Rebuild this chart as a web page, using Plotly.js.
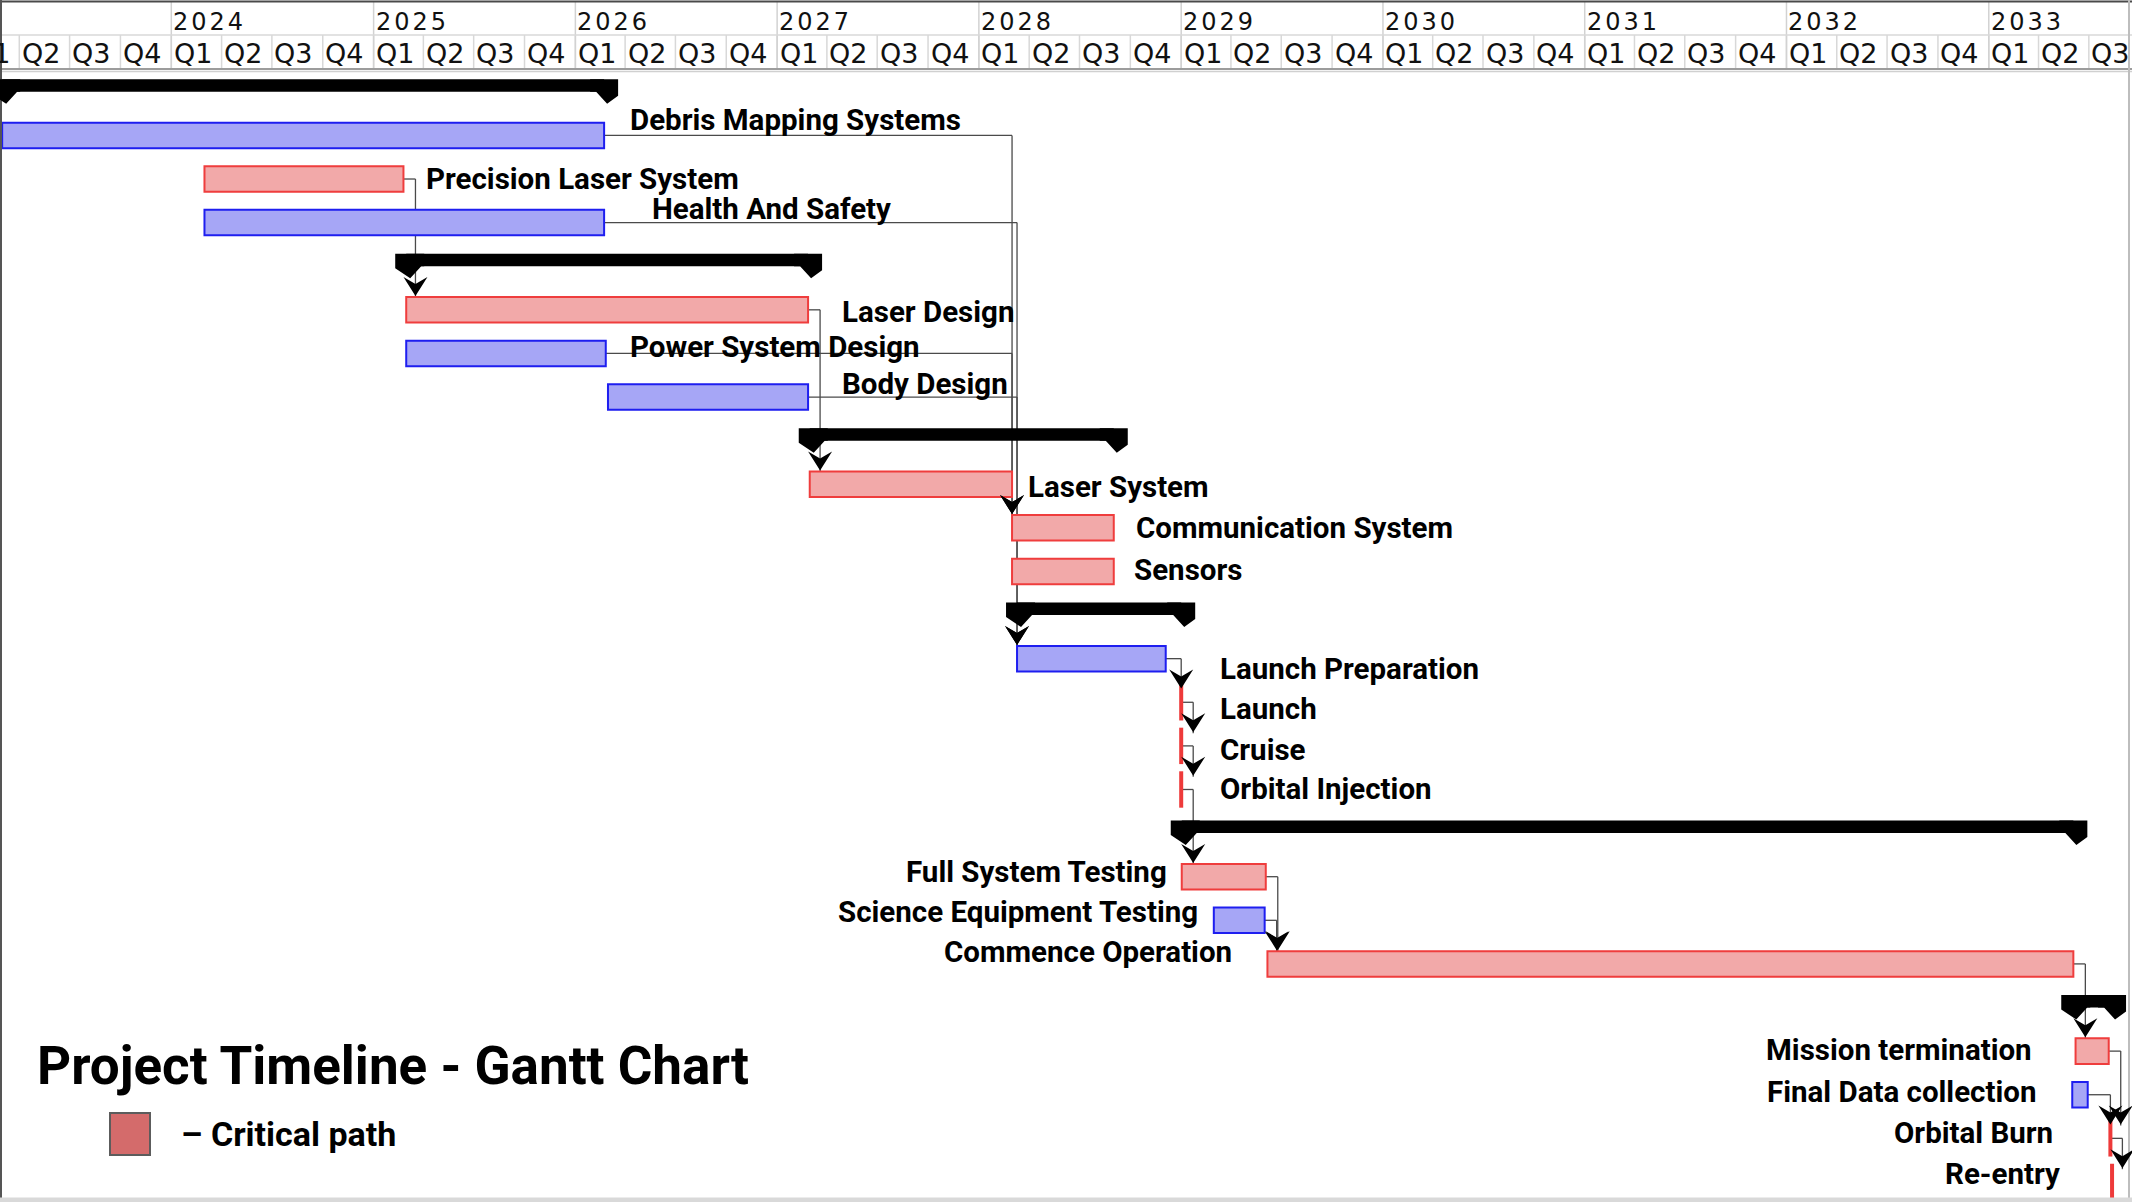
<!DOCTYPE html>
<html>
<head>
<meta charset="utf-8">
<script src="https://cdn.plot.ly/plotly-3.0.1.min.js"></script>
<style>
  html, body { margin: 0; padding: 0; background: #ffffff; }
  #chart { width: 2132px; height: 1202px; }
</style>
</head>
<body>
<div id="chart"></div>
<script>
// ---------------- DATA ----------------
const taskNames = [
  "Debris Mapping Systems", "Precision Laser System", "Health And Safety",
  "Laser Design", "Power System Design", "Body Design",
  "Laser System", "Communication System", "Sensors",
  "Launch Preparation", "Launch", "Cruise", "Orbital Injection",
  "Full System Testing", "Science Equipment Testing", "Commence Operation",
  "Mission termination", "Final Data collection", "Orbital Burn", "Re-entry"
];
const taskStart = [
  "2023-03-01", "2024-03-01", "2024-03-01",
  "2025-03-01", "2025-03-01", "2026-03-01",
  "2027-03-01", "2028-03-01", "2028-03-01",
  "2028-03-10", "2029-01-01", "2029-01-01", "2029-01-01",
  "2029-01-02", "2029-03-01", "2029-06-06",
  "2033-06-07", "2033-06-01", "2033-08-09", "2033-08-12"
];
const taskEnd = [
  "2026-02-22", "2025-02-24", "2026-02-22",
  "2027-02-26", "2026-02-25", "2027-02-26",
  "2028-03-01", "2028-09-01", "2028-09-01",
  "2028-12-04", "2029-01-01", "2029-01-01", "2029-01-01",
  "2029-06-03", "2029-06-01", "2033-06-03",
  "2033-08-06", "2033-06-29", "2033-08-09", "2033-08-12"
];
const taskRow       = [1, 2, 3, 5, 6, 7, 9, 10, 11, 13, 14, 15, 16, 18, 19, 20, 22, 23, 24, 25];
const taskGroup     = [0, 0, 0, 1, 1, 1, 2, 2, 2, 3, 3, 3, 3, 4, 4, 4, 5, 5, 5, 5];
const taskCritical  = [0, 1, 0, 1, 0, 0, 1, 1, 1, 0, 1, 1, 1, 1, 0, 1, 1, 0, 1, 1];
const taskMilestone = [0, 0, 0, 0, 0, 0, 0, 0, 0, 0, 1, 1, 1, 0, 0, 0, 0, 0, 1, 1];
const groupRow = [0, 4, 8, 12, 17, 21];
// dependencies: predecessor index -> successor index
const depFrom = [1, 3, 0, 4, 2, 5, 9, 10, 11, 12, 13, 14, 15, 16, 17, 18];
const depTo   = [3, 6, 7, 7, 9, 9, 10, 11, 12, 13, 15, 15, 16, 18, 18, 19];
const yearLabels = ["2023", "2024", "2025", "2026", "2027", "2028", "2029", "2030", "2031", "2032", "2033"];
const quarterLabels = ["Q1", "Q2", "Q3", "Q4"];
const titleText = "Project Timeline - Gantt Chart";
const legendText = "\u2013 Critical path";

// ---------------- LAYOUT / STYLE ----------------
const W = 2132, H = 1202, TOP = 70;
const X_RANGE = ["2023-02-25 02:24", "2033-09-17 02:24"];
const Y_RANGE = [25.46, -0.5];
const BAR_W = 0.585;
const STUB = 12;
// label placement (pixel gap from bar edge, pixel raise) — styling only
const labelSide = ["r","r","r","r","r","r","r","r","r","r","r","r","r","l","l","l","l","l","l","l"];
const labelGap  = [27, 24, 49, 35, 25, 35, 17, 23, 21, 55, 40, 40, 40, 15, 16, 35, 44, 36, 57, 52];
const labelRise = [15, 0, 14, -2, 6, 13, -3, 0, 1, -10, -7, -4.5, 0, 4.5, 8.5, 11.5, 1.5, 2.5, 5, 8];
const LABEL_SIZE = 29.5, TITLE_SIZE = 53, LEGEND_SIZE = 34;

const BLUE_FILL = "#a6a6f6", BLUE_LINE = "#1e1ef0";
const RED_FILL = "#f2a9a9", RED_LINE = "#ef3d3d";
const DEP_COLOR = "#4a4a4a";

function ms(s) {
  if (s.indexOf(" ") > 0) return Date.parse(s.replace(" ", "T") + ":00Z");
  return Date.parse(s + "T00:00:00Z");
}
const xMin = ms(X_RANGE[0]), xMax = ms(X_RANGE[1]);
const pxPerMs = W / (xMax - xMin);
const pY = py => (H - py) / (H - TOP);

// ---------------- TRACES ----------------
function barTrace(crit) {
  const y = [], x = [], base = [], text = [];
  taskNames.forEach((n, i) => {
    if (taskMilestone[i] || taskCritical[i] !== crit) return;
    y.push(taskRow[i]);
    base.push(taskStart[i]);
    x.push(ms(taskEnd[i]) - ms(taskStart[i]));
    text.push(n);
  });
  return {
    type: "bar", orientation: "h", y: y, x: x, base: base, width: BAR_W,
    customdata: text, hoverinfo: "skip", showlegend: false,
    marker: { color: crit ? RED_FILL : BLUE_FILL, line: { color: crit ? RED_LINE : BLUE_LINE, width: 2 } }
  };
}
const msX = [], msY = [];
taskNames.forEach((n, i) => { if (taskMilestone[i]) { msX.push(taskStart[i]); msY.push(taskRow[i]); } });
const traces = [
  barTrace(0), barTrace(1),
  { type: "scatter", mode: "markers", x: msX, y: msY, hoverinfo: "skip", showlegend: false,
    marker: { symbol: "line-ns-open", size: 26, color: "#ee3a3a", line: { color: "#ee3a3a", width: 4 } } }
];

// ---------------- SHAPES ----------------
const shapes = [];
const annotations = [];

// header grid
const quarterStarts = [], yearStarts = [];
const qFont = { family: "DejaVu Sans", size: 27, color: "#111" };
yearLabels.forEach((yl) => {
  const yStart = yl + "-01-01";
  if (ms(yStart) >= xMin && ms(yStart) <= xMax) yearStarts.push(yStart);
  quarterLabels.forEach((ql, qi) => {
    const m = String(qi * 3 + 1).padStart(2, "0");
    const qs = yl + "-" + m + "-01";
    const nextQ = qi < 3 ? yl + "-" + String(qi * 3 + 4).padStart(2, "0") + "-01" : String(+yl + 1) + "-01-01";
    if (ms(qs) > xMax) return;
    if (ms(qs) >= xMin) {
      quarterStarts.push(qs);
      annotations.push({ xref: "x", yref: "paper", x: qs, y: pY(54), xanchor: "left", yanchor: "middle", align: "left",
        xshift: 0.5, text: ql, showarrow: false, font: qFont });
    } else {
      annotations.push({ xref: "x", yref: "paper", x: nextQ, y: pY(54), xanchor: "left", yanchor: "middle", align: "left",
        xshift: 0.5 - (ms(nextQ) - ms(qs)) * pxPerMs, text: ql, showarrow: false, font: qFont });
    }
  });
});
yearStarts.forEach(d => {
  annotations.push({ xref: "x", yref: "paper", x: d, y: pY(22), xanchor: "left", yanchor: "middle", align: "left",
    xshift: 0, text: d.slice(0, 4), showarrow: false, font: { family: "DejaVu Sans", size: 24, color: "#111" } });
});
quarterStarts.forEach(d => shapes.push({ type: "line", xref: "x", yref: "paper", x0: d, x1: d,
  y0: pY(35), y1: pY(68), line: { color: "#d8d8d8", width: 1.5 } }));
yearStarts.forEach(d => shapes.push({ type: "line", xref: "x", yref: "paper", x0: d, x1: d,
  y0: pY(2), y1: pY(68), line: { color: "#d2d2d2", width: 1.5 } }));
shapes.push({ type: "line", xref: "paper", yref: "paper", x0: 0, x1: 1, y0: pY(35), y1: pY(35), line: { color: "#d8d8d8", width: 1.5 } });
shapes.push({ type: "line", xref: "paper", yref: "paper", x0: 0, x1: 1, y0: pY(1.5), y1: pY(1.5), line: { color: "#4a4a4a", width: 2 } });
shapes.push({ type: "line", xref: "paper", yref: "paper", x0: 0, x1: 1, y0: pY(69), y1: pY(69), line: { color: "#9c9c9c", width: 2 } });
shapes.push({ type: "line", xref: "paper", yref: "paper", x0: 0, x1: 1, y0: pY(71.5), y1: pY(71.5), line: { color: "#d0d0d0", width: 1.5 } });
// frame
shapes.push({ type: "line", xref: "paper", yref: "paper", x0: 1 / W, x1: 1 / W, y0: pY(0), y1: 0, line: { color: "#555", width: 2 } });
shapes.push({ type: "line", xref: "paper", yref: "paper", x0: 2129 / W, x1: 2129 / W, y0: pY(0), y1: 0, line: { color: "#bdbdbd", width: 2 } });
shapes.push({ type: "rect", xref: "paper", yref: "paper", x0: 0, x1: 1, y0: 0, y1: pY(1197.5), fillcolor: "#d9d9d9", line: { width: 0 } });

// dependency connectors
const stubMs = STUB / pxPerMs;
depFrom.forEach((s, k) => {
  const t = depTo[k];
  const yS = taskRow[s];
  const yTop = taskRow[t] - BAR_W / 2;
  const useStub = (ms(taskStart[t]) - ms(taskEnd[s])) < stubMs;
  const ln = { color: DEP_COLOR, width: 1.3 };
  let anchor, off;
  if (useStub) {
    anchor = taskEnd[s]; off = STUB;
    shapes.push({ type: "line", xref: "x", yref: "y", xsizemode: "pixel", xanchor: anchor, x0: 0, x1: STUB, y0: yS, y1: yS, line: ln, layer: "below" });
    shapes.push({ type: "line", xref: "x", yref: "y", xsizemode: "pixel", xanchor: anchor, x0: STUB, x1: STUB, y0: yS, y1: yTop, line: ln, layer: "below" });
  } else {
    anchor = taskStart[t]; off = 0;
    shapes.push({ type: "line", xref: "x", yref: "y", x0: taskEnd[s], x1: taskStart[t], y0: yS, y1: yS, line: ln, layer: "below" });
    shapes.push({ type: "line", xref: "x", yref: "y", x0: taskStart[t], x1: taskStart[t], y0: yS, y1: yTop, line: ln, layer: "below" });
  }
  shapes.push({ type: "path", xref: "x", yref: "y", xsizemode: "pixel", ysizemode: "pixel",
    xanchor: anchor, yanchor: yTop,
    path: `M ${off},1 L ${off - 12},20 L ${off},13 L ${off + 12},20 Z`,
    fillcolor: "#000", line: { width: 0 }, layer: "above" });
});

// summary bars
groupRow.forEach((row, g) => {
  let gs = Infinity, ge = -Infinity, gsS = null, geS = null;
  taskNames.forEach((n, i) => {
    if (taskGroup[i] !== g) return;
    if (ms(taskStart[i]) < gs) { gs = ms(taskStart[i]); gsS = taskStart[i]; }
    if (ms(taskEnd[i]) > ge) { ge = ms(taskEnd[i]); geS = taskEnd[i]; }
  });
  shapes.push({ type: "rect", xref: "x", yref: "y", ysizemode: "pixel", yanchor: row,
    x0: gsS, x1: geS, y0: 0, y1: 12.5, fillcolor: "#000", line: { width: 0 }, layer: "above" });
  shapes.push({ type: "path", xref: "x", yref: "y", xsizemode: "pixel", ysizemode: "pixel",
    xanchor: gsS, yanchor: row, path: "M -11,12.5 L 18,12.5 L 18,0 L 15,0 L 4,-12 L -11,-2 Z",
    fillcolor: "#000", line: { width: 0 }, layer: "above" });
  shapes.push({ type: "path", xref: "x", yref: "y", xsizemode: "pixel", ysizemode: "pixel",
    xanchor: geS, yanchor: row, path: "M -14,12.5 L 14,12.5 L 14,-4 L 3,-12 L -8,0 L -14,0 Z",
    fillcolor: "#000", line: { width: 0 }, layer: "above" });
});

// task labels
taskNames.forEach((n, i) => {
  const right = labelSide[i] === "r";
  annotations.push({ xref: "x", yref: "y", x: right ? taskEnd[i] : taskStart[i], y: taskRow[i],
    xanchor: right ? "left" : "right", yanchor: "middle",
    xshift: right ? labelGap[i] - 3 : -(labelGap[i] - 2), yshift: labelRise[i],
    text: n, showarrow: false, font: { family: "Roboto", size: LABEL_SIZE, weight: 700, color: "#000" } });
});

// legend
shapes.push({ type: "rect", xref: "paper", yref: "paper", x0: 110 / W, x1: 150 / W, y0: pY(1155), y1: pY(1113),
  fillcolor: "#d46b6b", line: { color: "#5c5c5c", width: 2 } });
annotations.push({ xref: "paper", yref: "paper", x: 179 / W, y: pY(1134), xanchor: "left", yanchor: "middle",
  text: legendText, showarrow: false, font: { family: "Roboto", size: LEGEND_SIZE, weight: 700, color: "#000" } });

const layout = {
  width: W, height: H,
  margin: { l: 0, r: 0, t: TOP, b: 0, pad: 0 },
  paper_bgcolor: "#ffffff", plot_bgcolor: "#ffffff",
  showlegend: false,
  bargap: 0,
  title: { text: titleText, x: 37 / W, xanchor: "left", xref: "container", y: (H - 1065.5) / H, yref: "container", yanchor: "middle",
    font: { family: "Roboto", size: TITLE_SIZE, weight: 700, color: "#000" }, automargin: false },
  xaxis: { type: "date", range: X_RANGE, visible: false, fixedrange: true },
  yaxis: { type: "linear", range: Y_RANGE, visible: false, fixedrange: true },
  shapes: shapes,
  annotations: annotations
};

Plotly.newPlot("chart", traces, layout, { displayModeBar: false, staticPlot: true, responsive: false }).then(() => {
  document.querySelectorAll(".annotation-text").forEach(el => {
    if (/^\d{4}$/.test(el.textContent)) el.style.letterSpacing = "3px";
  });
});
</script>
</body>
</html>
